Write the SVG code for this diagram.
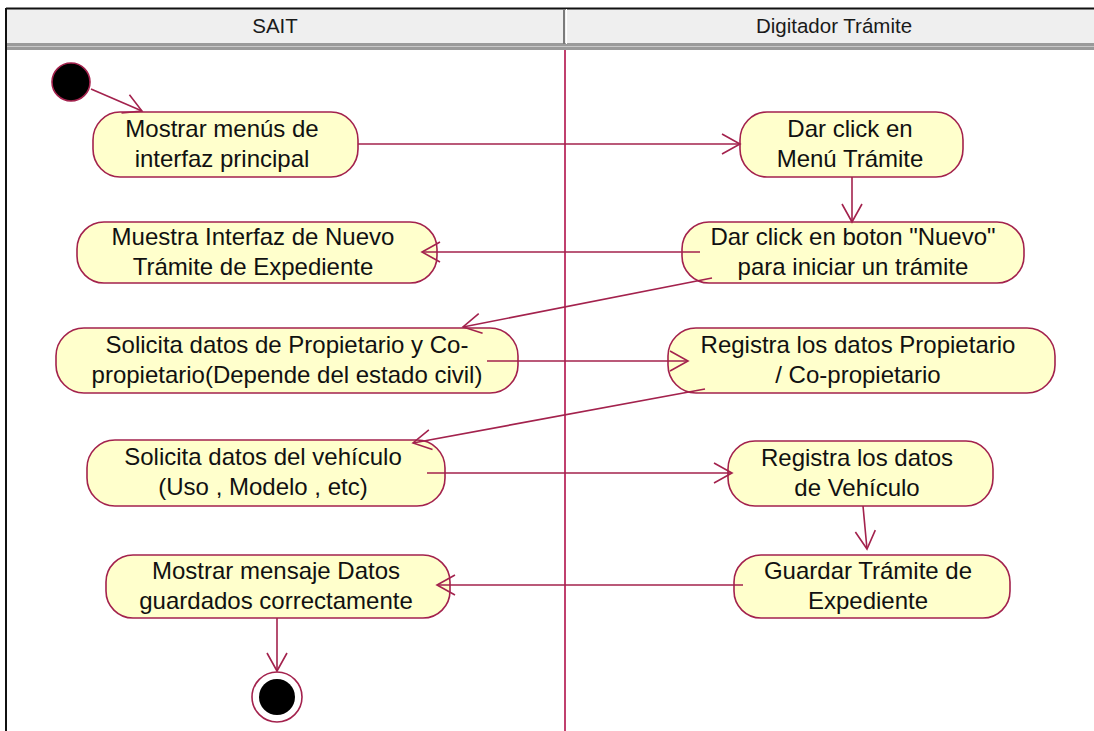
<svg xmlns="http://www.w3.org/2000/svg" width="1094" height="731" viewBox="0 0 1094 731">
<style>
.act{fill:#ffffcc;stroke:#a3224d;stroke-width:1.6}
.t{font-family:"Liberation Sans",Arial,sans-serif;font-size:24px;fill:#111;text-anchor:middle}
.h{font-family:"Liberation Sans",Arial,sans-serif;font-size:20.5px;fill:#1a1a1a;text-anchor:middle}
.c{stroke:#a3224d;stroke-width:1.6;fill:none;marker-end:url(#arr)}
</style>
<defs>
<marker id="arr" markerUnits="userSpaceOnUse" markerWidth="24" markerHeight="24" refX="20" refY="10" orient="auto" overflow="visible">
<path d="M2,0 L20,10 L2,20" fill="none" stroke="#a3224d" stroke-width="1.6"/>
</marker>
</defs>
<rect width="1094" height="731" fill="#ffffff"/>
<g id="frame">
<rect x="6" y="8" width="1090" height="36" fill="#efefef"/>
<line x1="6" y1="8.5" x2="1094" y2="8.5" stroke="#111" stroke-width="2"/>
<rect x="6" y="43" width="1090" height="7" fill="#9a9a9a"/>
<line x1="6" y1="46.5" x2="1094" y2="46.5" stroke="#c8c8c8" stroke-width="1"/>
<line x1="564" y1="9" x2="564" y2="44" stroke="#7a7a7a" stroke-width="2"/>
<line x1="566.5" y1="9" x2="566.5" y2="44" stroke="#ffffff" stroke-width="1"/>
<line x1="6" y1="8" x2="6" y2="731" stroke="#111" stroke-width="2"/>
<line x1="565" y1="50" x2="565" y2="731" stroke="#c0406e" stroke-width="2"/>
<text class="h" x="275" y="33">SAIT</text>
<text class="h" x="834" y="33">Digitador Trámite</text>
</g>
<g id="start"><circle cx="71" cy="82" r="19" fill="#000" stroke="#a3224d" stroke-width="1.6"/></g>
<g id="n1"><rect class="act" x="93" y="112" width="265" height="65" rx="27" ry="28"/>
<text class="t" x="222" y="137">Mostrar menús de</text><text class="t" x="222" y="167">interfaz principal</text></g>
<g id="n2"><rect class="act" x="740" y="112" width="223" height="65" rx="27" ry="28"/>
<text class="t" x="850" y="137">Dar click en</text><text class="t" x="850" y="167">Menú Trámite</text></g>
<g id="n3"><rect class="act" x="682" y="222" width="342" height="61" rx="27" ry="27"/>
<text class="t" x="853" y="245">Dar click en boton "Nuevo"</text><text class="t" x="853" y="275">para iniciar un trámite</text></g>
<g id="n4"><rect class="act" x="77" y="222" width="360" height="61" rx="27" ry="27"/>
<text class="t" x="253" y="245">Muestra Interfaz de Nuevo</text><text class="t" x="253" y="275">Trámite de Expediente</text></g>
<g id="n5"><rect class="act" x="56" y="328" width="462" height="65" rx="28" ry="28"/>
<text class="t" x="287" y="353">Solicita datos de Propietario y Co-</text><text class="t" x="287" y="383">propietario(Depende del estado civil)</text></g>
<g id="n6"><rect class="act" x="668" y="328" width="387" height="65" rx="28" ry="28"/>
<text class="t" x="858" y="353">Registra los datos Propietario</text><text class="t" x="858" y="383">/ Co-propietario</text></g>
<g id="n7"><rect class="act" x="87" y="440" width="358" height="66" rx="28" ry="28"/>
<text class="t" x="263" y="465">Solicita datos del vehículo</text><text class="t" x="263" y="495">(Uso , Modelo , etc)</text></g>
<g id="n8"><rect class="act" x="728" y="441" width="265" height="65" rx="27" ry="28"/>
<text class="t" x="857" y="466">Registra los datos</text><text class="t" x="857" y="496">de Vehículo</text></g>
<g id="n9"><rect class="act" x="734" y="555" width="276" height="63" rx="27" ry="27"/>
<text class="t" x="868" y="579">Guardar Trámite de</text><text class="t" x="868" y="609">Expediente</text></g>
<g id="n10"><rect class="act" x="106" y="555" width="344" height="63" rx="27" ry="27"/>
<text class="t" x="276" y="579">Mostrar mensaje Datos</text><text class="t" x="276" y="609">guardados correctamente</text></g>
<g id="end"><circle cx="277" cy="697" r="25" fill="#fff" stroke="#a3224d" stroke-width="1.6"/><circle cx="277" cy="697" r="18" fill="#000"/></g>
<g id="connectors">
<line class="c" x1="91" y1="89" x2="142" y2="111"/>
<line class="c" x1="358" y1="144" x2="740" y2="144"/>
<line class="c" x1="852" y1="177" x2="852" y2="222"/>
<line class="c" x1="700" y1="252" x2="422" y2="252"/>
<line class="c" x1="712" y1="278" x2="463" y2="327"/>
<line class="c" x1="487" y1="361" x2="688" y2="361"/>
<line class="c" x1="705" y1="389" x2="413" y2="443"/>
<line class="c" x1="427" y1="473" x2="732" y2="473"/>
<line class="c" x1="863" y1="506" x2="867" y2="549"/>
<line class="c" x1="743" y1="585" x2="437" y2="585"/>
<line class="c" x1="277" y1="618" x2="277" y2="671"/>
</g>
</svg>
